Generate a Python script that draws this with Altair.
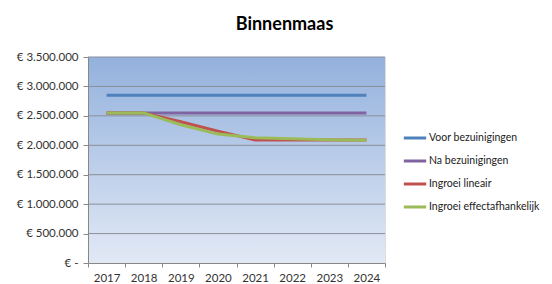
import altair as alt
import pandas as pd

years = ["2017", "2018", "2019", "2020", "2021", "2022", "2023", "2024"]
series_names = ["Voor bezuinigingen", "Na bezuinigingen", "Ingroei lineair", "Ingroei effectafhankelijk"]
voor = [2850000] * 8
na = [2550000] * 8
lineair = [2550000, 2550000, 2400000, 2240000, 2090000, 2090000, 2090000, 2090000]
effect = [2550000, 2550000, 2350000, 2190000, 2130000, 2110000, 2095000, 2085000]
colors = ["#4F81BD", "#8064A2", "#C0504D", "#9BBB59"]
grid_values = [500000, 1000000, 1500000, 2000000, 2500000, 3000000, 3500000]
tick_values = [0] + grid_values

rows = []
for name, vals in zip(series_names, [voor, na, lineair, effect]):
    for y, v in zip(years, vals):
        rows.append({"jaar": y, "serie": name, "waarde": v})
df = pd.DataFrame(rows)

W, H = 297, 206
FONT = "Lato"

y_axis = alt.Axis(values=tick_values, grid=False, labelOverlap=False,
                  labelExpr="datum.value == 0 ? '€ -' : '€ ' + replace(format(datum.value, ',.0f'), regexp(',', 'g'), '.')",
                  domainColor="#888888", tickColor="#888888", tickSize=5, zindex=1,
                  labelColor="#333333", labelFont=FONT, labelFontSize=11.5,
                  labelPadding=5, title=None)
y_scale = alt.Scale(domain=[0, 3500000], nice=False)

bg = alt.Chart(pd.DataFrame({"a": [0]})).mark_rect(
    color=alt.LinearGradient(
        gradient="linear", x1=0, y1=0, x2=0, y2=1,
        stops=[alt.GradientStop(color="#93b1dd", offset=0),
               alt.GradientStop(color="#e2e9f5", offset=1)],
    )
).encode(x=alt.value(0), x2=alt.value(W), y=alt.value(0), y2=alt.value(H))

grid = alt.Chart(pd.DataFrame({"v": grid_values})).mark_rule(
    color="#8a8f99", strokeWidth=1
).encode(y=alt.Y("v:Q", axis=y_axis, scale=y_scale, title=None),
         x=alt.value(0), x2=alt.value(W))

lines = alt.Chart(df).mark_line(strokeWidth=3).encode(
    x=alt.X("jaar:N", sort=years, title=None,
            scale=alt.Scale(paddingInner=0, paddingOuter=0),
            axis=alt.Axis(labelAngle=0, tickBand="extent", grid=False,
                          domainColor="#888888", tickColor="#888888",
                          labelColor="#333333", labelFont=FONT, labelFontSize=11.5,
                          tickSize=4, labelPadding=5, zindex=1)),
    y=alt.Y("waarde:Q", title=None, scale=y_scale, axis=y_axis),
    color=alt.Color("serie:N", sort=series_names,
                    scale=alt.Scale(domain=series_names, range=colors),
                    legend=alt.Legend(title=None, orient="none", legendX=314, legendY=68,
                                      symbolType="stroke", symbolStrokeWidth=3,
                                      symbolSize=500, rowPadding=4,
                                      labelFont=FONT, labelFontSize=10.5, labelColor="#222222",
                                      labelOffset=1)),
)

chart = (bg + grid + lines).properties(
    width=W, height=H,
    padding={"left": 80, "top": 49, "right": 159, "bottom": 20},
    autosize=alt.AutoSizeParams(type="none"),
    title=alt.TitleParams("Binnenmaas", font=FONT, fontSize=18, fontWeight="bold",
                          color="#000000", anchor="middle", dx=48, offset=17),
).configure_view(stroke=None).configure(background="#ffffff")

chart.save("out.html", embed_options={"renderer": "svg", "actions": False})
